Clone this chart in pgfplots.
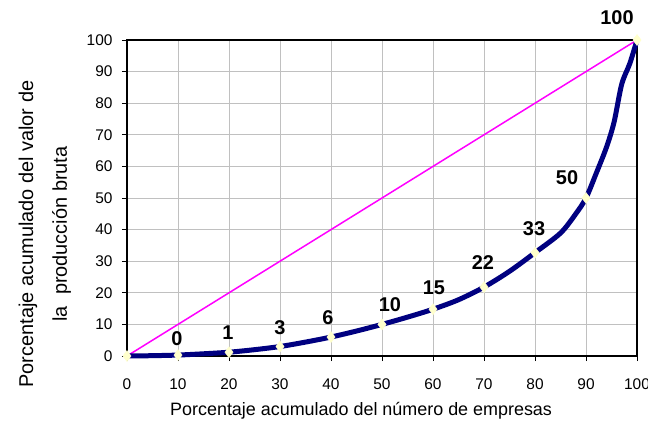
\documentclass[border=0pt]{standalone}
\usepackage{fontspec}
\setmainfont{Liberation Sans}
\usepackage{pgfplots}
\usepackage{pgfplotstable}
\pgfplotsset{compat=1.18}
\definecolor{navyc}{RGB}{0,0,128}
\definecolor{magc}{RGB}{255,0,255}
\definecolor{creamc}{RGB}{255,255,204}
\definecolor{gridc}{RGB}{192,192,192}

\pgfplotstableread{
x y
0 0
5 0.1
10 0.3
15 0.7
20 1.2
25 2
30 3
35 4.4
40 6
45 7.9
50 10
55 12.3
60 14.8
65 17.8
70 21.8
75 26.8
80 32.7
85 38.9
88 45
90 50
92 57.8
94 66
95.5 74
97 86
98.6 92.6
100 100
}\curve

\pgfplotstableread{
x y lab dx dy
10 0.3 0 -1 16
20 1.2 1 -1 20
30 3 3 0 19
40 6 6 -3 19
50 10 10 8 20
60 14.8 15 1 21
70 21.8 22 -1 25
80 32.7 33 -1 24
90 50 50 -19 20
100 100 100 -20 22
}\labs

\begin{document}
\begin{tikzpicture}
\path[use as bounding box] (-127bp,-72bp) rectangle (521bp,356bp);
\begin{axis}[
 at={(0,0)}, anchor=south west,
 scale only axis, width=510bp, height=316bp,
 xmin=0,xmax=100,ymin=0,ymax=100,
 xtick={0,10,...,100}, ytick={0,10,...,100},
 grid=major, major grid style={gridc, line width=0.8bp},
 axis line style={black, line width=1.3bp},
 tick align=outside, tick pos=left, major tick length=5bp,
 tick style={black, line width=0.8bp},
 ticklabel style={font=\fontsize{15.5}{18}\selectfont},
 /pgf/number format/assume math mode=true,
 xticklabel style={yshift=-14bp},
 yticklabel style={xshift=-6bp},
 xlabel={Porcentaje acumulado del número de empresas},
 xlabel style={font=\fontsize{18}{20}\selectfont, at={(axis description cs:0.459,-0.174)}, anchor=center},
 ylabel={Porcentaje acumulado del valor de\\la\ \ producción bruta},
 ylabel style={font=\fontsize{20}{34}\selectfont, align=center, at={(axis description cs:-0.161,0.386)}, anchor=center},
 clip=false,
]
\addplot[magc, line width=1.5bp] coordinates {(0,0) (100,100)};
\addplot[navyc, line width=5bp, smooth, tension=0.5] table[x=x,y=y] {\curve};
\addplot[only marks, mark=diamond*, mark size=5.5bp, mark options={fill=creamc, draw=creamc}] table[x=x,y=y] {\labs};
\addplot[only marks, mark=diamond*, mark size=5.5bp, mark options={fill=creamc, draw=creamc}] coordinates {(0,0)};
\addplot[draw=none, mark=none, point meta=explicit symbolic,
  visualization depends on={\thisrow{dx} \as \dx},
  visualization depends on={\thisrow{dy} \as \dy},
  nodes near coords,
  nodes near coords style={font=\bfseries\fontsize{20}{22}\selectfont, anchor=center, xshift=\dx bp, yshift=\dy bp, text=black}]
  table[x=x,y=y,meta=lab] {\labs};
\end{axis}
\end{tikzpicture}
\end{document}
